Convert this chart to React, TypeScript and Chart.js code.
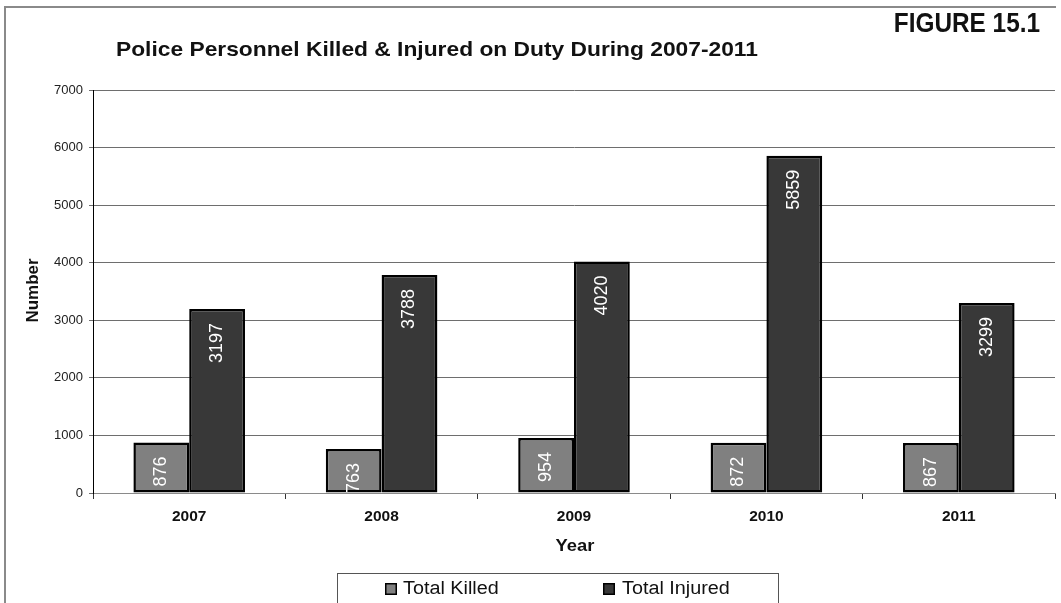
import React, { useEffect, useRef } from "react";
import { Chart, registerables } from "chart.js";

Chart.register(...registerables);

const years = ["2007", "2008", "2009", "2010", "2011"];
const totalKilled = [876, 763, 954, 872, 867];
const totalInjured = [3197, 3788, 4020, 5859, 3299];
const seriesNames = ["Total Killed", "Total Injured"];
const seriesColors = ["#808080", "#383838"];
const chartTitle = "Police Personnel Killed & Injured on Duty During 2007-2011";
const figureLabel = "FIGURE 15.1";
const xTitle = "Year";
const yTitle = "Number";
const yMin = 0;
const yMax = 7000;
const yStep = 1000;

const FONT = "'Liberation Sans', Arial, sans-serif";

function drawText(
  ctx: CanvasRenderingContext2D,
  text: string,
  x: number,
  y: number,
  font: string,
  color: string,
  align: CanvasTextAlign,
  sx = 1,
  rotate = 0
) {
  ctx.save();
  ctx.translate(x, y);
  ctx.scale(sx, 1);
  if (rotate) ctx.rotate(rotate);
  ctx.font = font;
  ctx.fillStyle = color;
  ctx.textAlign = align;
  ctx.textBaseline = "middle";
  ctx.fillText(text, 0, 0);
  ctx.restore();
}

const decorPlugin = {
  id: "decor",
  beforeDraw(chart: any) {
    const ctx = chart.ctx as CanvasRenderingContext2D;
    ctx.save();
    ctx.fillStyle = "#ffffff";
    ctx.fillRect(0, 0, chart.width, chart.height);
    ctx.strokeStyle = "#8a8a8a";
    ctx.lineWidth = 2;
    ctx.beginPath();
    ctx.moveTo(5, chart.height + 2);
    ctx.lineTo(5, 7);
    ctx.lineTo(1056, 7);
    ctx.stroke();
    ctx.restore();
  },
  afterDatasetsDraw(chart: any) {
    const ctx = chart.ctx as CanvasRenderingContext2D;
    chart.data.datasets.forEach((ds: any, di: number) => {
      const meta = chart.getDatasetMeta(di);
      meta.data.forEach((bar: any, i: number) => {
        const v = ds.data[i];
        drawText(
          ctx,
          String(v),
          bar.x,
          bar.y + 14,
          `18px ${FONT}`,
          "#ffffff",
          "right",
          1,
          -Math.PI / 2
        );
      });
    });
  },
  afterDraw(chart: any) {
    const ctx = chart.ctx as CanvasRenderingContext2D;
    const area = chart.chartArea;
    drawText(ctx, chartTitle, 116, 50, `bold 21px ${FONT}`, "#111", "left", 1.085);
    drawText(ctx, figureLabel, 1040, 24, `bold 28px ${FONT}`, "#111", "right", 0.87);
    drawText(ctx, xTitle, (area.left + area.right) / 2 + 1, 546, `bold 17px ${FONT}`, "#111", "center", 1.08);
    drawText(ctx, yTitle, 33, (area.top + area.bottom) / 2 - 1, `bold 17px ${FONT}`, "#111", "center", 1, -Math.PI / 2);
    ctx.save();
    ctx.strokeStyle = "#555";
    ctx.lineWidth = 1;
    ctx.strokeRect(337.5, 573.5, 441, 40);
    const items = [
      { x: 385, tx: 403 },
      { x: 603, tx: 622 },
    ];
    items.forEach((it, i) => {
      ctx.fillStyle = seriesColors[i];
      ctx.fillRect(it.x, 583, 12, 12);
      ctx.strokeStyle = "#000";
      ctx.lineWidth = 1.5;
      ctx.strokeRect(it.x + 0.75, 583.75, 10.5, 10.5);
      drawText(ctx, seriesNames[i], it.tx, 589, `18px ${FONT}`, "#111", "left", 1.1);
    });
    ctx.restore();
  },
};

export default function App() {
  const ref = useRef<HTMLCanvasElement | null>(null);
  useEffect(() => {
    document.body.style.margin = "0";
    const canvas = ref.current!;
    const chart = new Chart(canvas, {
      type: "bar",
      data: {
        labels: years,
        datasets: [
          {
            label: seriesNames[0],
            data: totalKilled,
            backgroundColor: seriesColors[0],
            borderColor: "#000",
            borderWidth: 2.5,
            borderSkipped: false,
            categoryPercentage: 0.58,
            barPercentage: 1,
          },
          {
            label: seriesNames[1],
            data: totalInjured,
            backgroundColor: seriesColors[1],
            borderColor: "#000",
            borderWidth: 2.5,
            borderSkipped: false,
            categoryPercentage: 0.58,
            barPercentage: 1,
          },
        ],
      },
      options: {
        responsive: false,
        animation: false,
        devicePixelRatio: 1,
        layout: { padding: { top: 90, right: 6, left: 0, bottom: 0 } },
        plugins: {
          legend: { display: false },
          title: { display: false },
          tooltip: { enabled: false },
        },
        scales: {
          x: {
            grid: {
              display: true,
              drawOnChartArea: false,
              drawTicks: true,
              tickLength: 6,
              color: "#333",
              offset: true,
            },
            border: { color: "#8a8a8a", width: 1 },
            ticks: {
              font: { family: FONT, weight: "bold", size: 15.5 },
              color: "#111",
              padding: 8,
            },
            afterFit: (s: any) => {
              s.height = 110;
            },
          },
          y: {
            min: yMin,
            max: yMax,
            ticks: {
              stepSize: yStep,
              font: { family: FONT, size: 13 },
              color: "#222",
              padding: 6,
              callback: (v: any) => String(v),
            },
            grid: { color: "#6e6e6e", tickLength: 4 },
            border: { color: "#000", width: 1 },
            afterFit: (s: any) => {
              s.width = 93;
            },
          },
        },
      },
      plugins: [decorPlugin],
    });
    return () => chart.destroy();
  }, []);
  return (
    <canvas
      ref={ref}
      width={1061}
      height={603}
      style={{ display: "block", width: 1061, height: 603 }}
    />
  );
}
